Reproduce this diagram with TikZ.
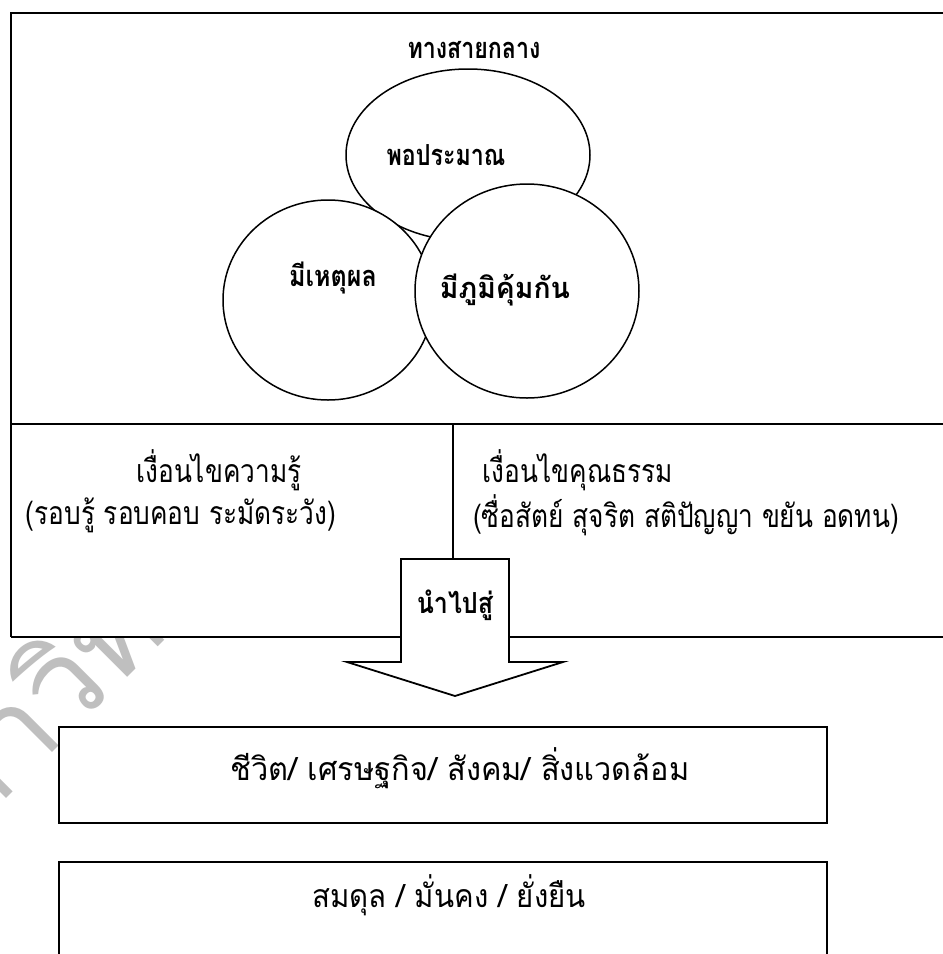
\documentclass[tikz,border=0pt]{standalone}
\usepackage{fontspec}
\usetikzlibrary{shapes.geometric}
\newfontfamily\thai[Script=Thai]{Loma}
\newfontfamily\thainarrow[Script=Thai,FakeStretch=0.82]{Loma}
\newfontfamily\thaibnarrow[Script=Thai,FakeStretch=0.80]{Loma Bold}
\begin{document}
\begin{tikzpicture}[x=1pt,y=-1pt,
  frameline/.style={draw=black,line width=2pt},
  bubble/.style={draw=black,line width=1.5pt,fill=white},
  btxt/.style={font=\thaibnarrow\fontsize{29}{32}\selectfont,inner sep=0pt},
  ntxt/.style={font=\thainarrow\fontsize{32}{36}\selectfont,inner sep=0pt},
  resbox/.style={draw=black,line width=2pt,fill=white},
  arrowshape/.style={draw=black,line width=1.8pt,fill=white,line join=miter}]
\useasboundingbox (0,0) rectangle (943,954);
\fill[white] (0,0) rectangle (943,954);
% watermark
\node[text=black!25,font=\thai\fontsize{120}{120}\selectfont,rotate=45,anchor=base west] (wm) at (-95,900) {มหาวิทยาลัย};
% main frame
\fill[white] (11,13) rectangle (960,637);
\coordinate (tl) at (11,13);
\coordinate (tr) at (960,13);
\coordinate (ml) at (11,424);
\coordinate (mr) at (960,424);
\coordinate (bl) at (11,637);
\coordinate (br) at (960,637);
\coordinate (vd) at (453,424);
\coordinate (vb) at (453,559);
\draw[frameline] (bl) -- (tl) -- (tr);
\draw[frameline] (ml) -- (mr);
\draw[frameline] (bl) -- (br);
\draw[line width=1.5pt] (vd) -- (vb);
% bubbles
\node[bubble,ellipse,minimum width=244pt,minimum height=172pt,inner sep=0pt] (pp) at (468,155) {};
\node[bubble,ellipse,minimum width=210pt,minimum height=200pt,inner sep=0pt] (mh) at (328,300) {};
\node[bubble,ellipse,minimum width=224pt,minimum height=214pt,inner sep=0pt] (mp) at (527,291) {};
\node[btxt] (t0) at (474,50) {ทางสายกลาง};
\node[btxt] (t1) at (446,155) {พอประมาณ};
\node[btxt] (t2) at (333,278) {\scalebox{1.08}[1]{มีเหตุผล}};
\node[btxt] (t3) at (505,290) {\scalebox{1.22}[1]{มีภูมิคุ้มกัน}};
% conditions
\node[ntxt] (k1) at (219,470) {เงื่อนไขความรู้};
\node[ntxt] (k2) at (181,515) {(รอบรู้ รอบคอบ ระมัดระวัง)};
\node[ntxt] (m1) at (578,470) {เงื่อนไขคุณธรรม};
\node[ntxt] (m2) at (686,515) {(ซื่อสัตย์ สุจริต สติปัญญา ขยัน อดทน)};
% arrow
\coordinate (a1) at (401,559);
\coordinate (a2) at (509,559);
\coordinate (a3) at (509,662);
\coordinate (a4) at (563,662);
\coordinate (a5) at (455,696);
\coordinate (a6) at (347,662);
\coordinate (a7) at (401,662);
\draw[arrowshape] (a1) -- (a2) -- (a3) -- (a4) -- (a5) -- (a6) -- (a7) -- cycle;
\node[btxt] (lead) at (455,605) {\scalebox{1.08}[1]{นำไปสู่}};
% result boxes
\draw[resbox] (59,727) rectangle (827,823);
\node[ntxt] (r1) at (460,768) {\scalebox{1.17}[1]{ชีวิต/ เศรษฐกิจ/ สังคม/ สิ่งแวดล้อม}};
\draw[resbox] (59,980) -- (59,862) -- (827,862) -- (827,980);
\node[ntxt] (r2) at (449,895) {\scalebox{1.12}[1]{สมดุล / มั่นคง / ยั่งยืน}};
\end{tikzpicture}
\end{document}
